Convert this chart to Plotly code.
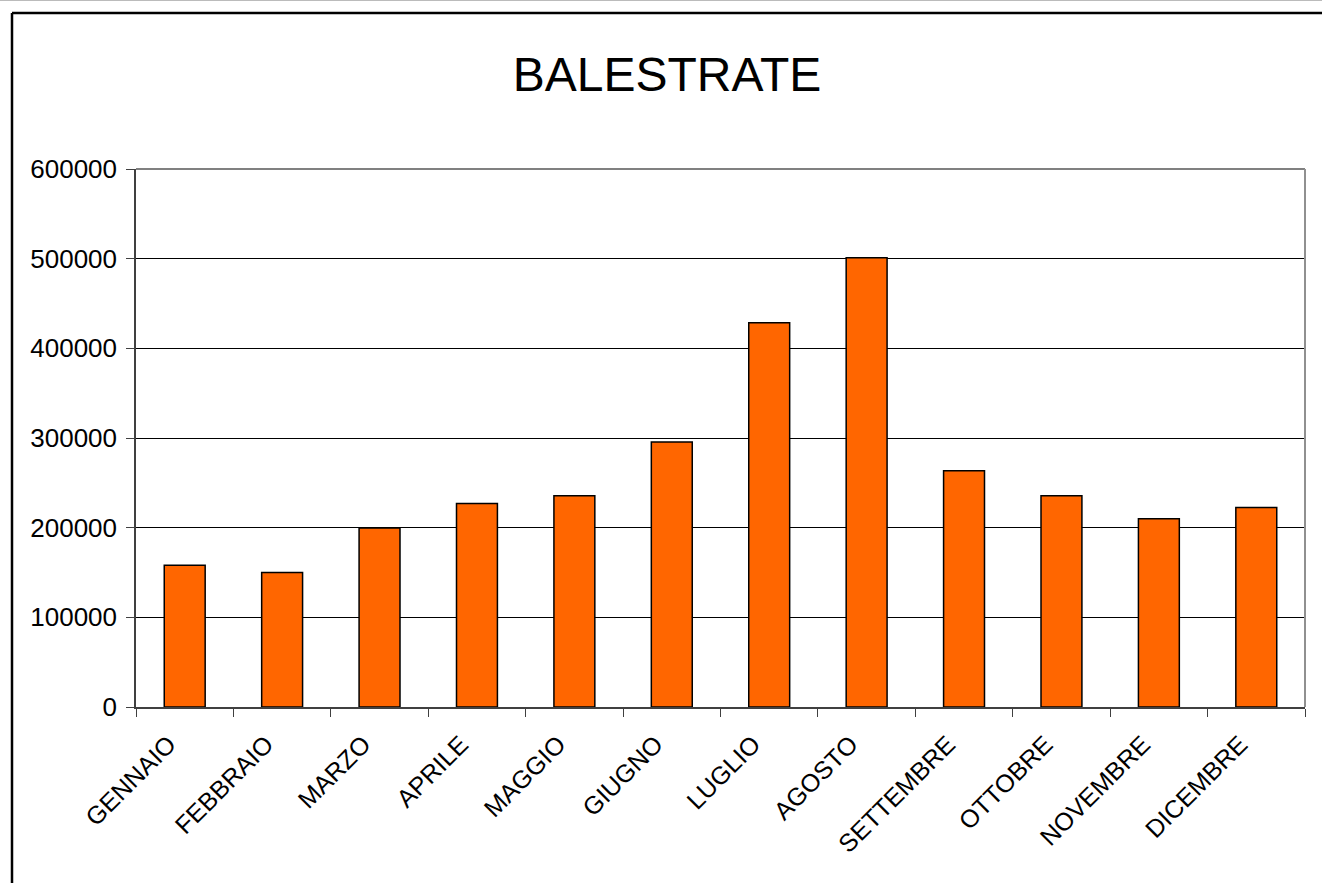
import plotly.graph_objects as go

months = ["GENNAIO", "FEBBRAIO", "MARZO", "APRILE", "MAGGIO", "GIUGNO",
          "LUGLIO", "AGOSTO", "SETTEMBRE", "OTTOBRE", "NOVEMBRE", "DICEMBRE"]
values = [158000, 150000, 199500, 227000, 235500, 295500,
          428500, 501000, 263500, 235500, 210000, 222500]
y_ticks = [0, 100000, 200000, 300000, 400000, 500000, 600000]
title_text = "BALESTRATE"

W, H = 1322, 883
L, R, T, B = 136, 1305, 169, 707  # plot area in pixels
pw, ph = R - L, B - T

def px_x(x):
    return (x - L) / pw

def px_y(y):
    return (B - y) / ph

FONT = "Liberation Sans, Arial, sans-serif"

fig = go.Figure(go.Bar(
    x=months, y=values,
    marker=dict(color="#FF6600", line=dict(color="#000000", width=1.5)),
))

fig.update_layout(
    width=W, height=H,
    margin=dict(l=L, r=W - R, t=T, b=H - B, pad=0),
    paper_bgcolor="white", plot_bgcolor="white",
    showlegend=False,
    bargap=0.58,
    font=dict(family=FONT, color="black", size=24),
    title=dict(text=title_text, x=667 / W, xref="container", xanchor="center",
               y=1 - 74 / H, yref="container", yanchor="middle",
               font=dict(family=FONT, size=48, color="black")),
    xaxis=dict(
        type="category", tickangle=-45, ticks="outside", ticklen=8,
        tickcolor="#404040", tickson="boundaries", showgrid=False,
        showline=True, linecolor="#404040", linewidth=1.5,
        tickfont=dict(family=FONT, size=25, color="black"),
        ticklabelstandoff=11, ticklabelshift=-16,
    ),
    yaxis=dict(
        range=[0, 600000], tickvals=y_ticks,
        ticktext=[str(v) for v in y_ticks],
        ticks="outside", ticklen=8, tickcolor="#404040",
        showgrid=True, gridcolor="#000000", gridwidth=1,
        showline=True, linecolor="#404040", linewidth=1.5,
        zeroline=False,
        tickfont=dict(family=FONT, size=26, color="black"),
        ticklabelstandoff=4,
    ),
    shapes=[
        # plot area border (top and right, gray)
        dict(type="line", xref="paper", yref="paper", x0=0, x1=1, y0=1, y1=1,
             line=dict(color="#808080", width=2), layer="above"),
        dict(type="line", xref="paper", yref="paper", x0=1, x1=1, y0=0, y1=1,
             line=dict(color="#909090", width=2), layer="above"),
        # chart frame (left and top, black)
        dict(type="line", xref="paper", yref="paper",
             x0=px_x(12), x1=px_x(12), y0=px_y(H + 20), y1=px_y(13),
             line=dict(color="#000000", width=2.5)),
        dict(type="line", xref="paper", yref="paper",
             x0=px_x(12), x1=px_x(W + 20), y0=px_y(13), y1=px_y(13),
             line=dict(color="#000000", width=2.5)),
        # faint page top line
        dict(type="line", xref="paper", yref="paper",
             x0=px_x(0), x1=px_x(W), y0=px_y(0.5), y1=px_y(0.5),
             line=dict(color="#BBBBBB", width=1)),
    ],
)

fig.write_html("out.html", config={"displayModeBar": False},
               post_script="document.body.style.margin='0px';")
